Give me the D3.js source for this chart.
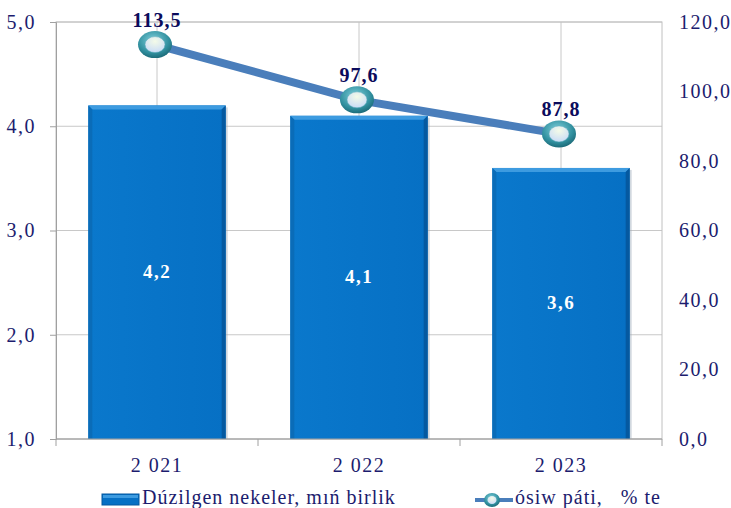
<!DOCTYPE html>
<html>
<head>
<meta charset="utf-8">
<script src="https://cdn.jsdelivr.net/npm/d3@7"></script>
<style>
  body { margin: 0; background: #fff; }
</style>
</head>
<body>
<svg id="chart" width="731" height="508"></svg>
<script>
// chart data
const years = ["2 021", "2 022", "2 023"];
const produced = [4.2, 4.1, 3.6];
const growth = [113.5, 97.6, 87.8];
const leftTicks = [1, 2, 3, 4, 5];
const rightTicks = [0, 20, 40, 60, 80, 100, 120];
const barName = "Dúzilgen nekeler, mıń birlik";
const lineName = "ósiw páti,   % te";

const FONT = "Liberation Serif";
const fmt = v => v.toFixed(1).replace(".", ",");

let margin = { top: 22, right: 69, bottom: 69, left: 56 },
    width = 731 - margin.left - margin.right,
    height = 508 - margin.top - margin.bottom;

const svg = d3.select("#chart");
const defs = svg.append("defs");

// gradients for the markers
let rg = defs.append("radialGradient").attr("id", "ring")
    .attr("cx", "45%").attr("cy", "35%").attr("r", "65%");
rg.append("stop").attr("offset", "0%").attr("stop-color", "#7fd0dc");
rg.append("stop").attr("offset", "70%").attr("stop-color", "#31909f");
rg.append("stop").attr("offset", "100%").attr("stop-color", "#1d6c7a");

let ig = defs.append("radialGradient").attr("id", "inner")
    .attr("cx", "50%").attr("cy", "30%").attr("r", "70%");
ig.append("stop").attr("offset", "0%").attr("stop-color", "#f4fbe8");
ig.append("stop").attr("offset", "100%").attr("stop-color", "#c9dcf7");

let bg = defs.append("linearGradient").attr("id", "barfill")
    .attr("x1", 0).attr("y1", 0).attr("x2", 1).attr("y2", 0);
bg.append("stop").attr("offset", "0%").attr("stop-color", "#0a78cc");
bg.append("stop").attr("offset", "100%").attr("stop-color", "#0670c4");

const g = svg.append("g")
    .attr("transform", "translate(" + margin.left + "," + margin.top + ")");

// scales
const x = d3.scaleBand().domain(years).range([0, width]).paddingInner(0.32).paddingOuter(0.16);
const xc = d3.scaleBand().domain(years).range([0, width]);
const y = d3.scaleLinear().domain([1, 5]).range([height, 0]);
const y2 = d3.scaleLinear().domain([0, 120]).range([height, 0]);

// horizontal grid
g.selectAll(".hgrid").data(leftTicks).enter().append("line")
    .attr("x1", 0).attr("x2", width)
    .attr("y1", d => y(d)).attr("y2", d => y(d))
    .attr("stroke", "#c8c8c8").attr("stroke-width", 1);

// vertical grid at category centres
g.selectAll(".vgrid").data(years).enter().append("line")
    .attr("x1", d => xc(d) + xc.bandwidth() / 2).attr("x2", d => xc(d) + xc.bandwidth() / 2)
    .attr("y1", 0).attr("y2", height)
    .attr("stroke", "#c8c8c8").attr("stroke-width", 1);

// plot border
g.append("rect").attr("width", width).attr("height", height)
    .attr("fill", "none").attr("stroke", "#c0c0c0");

// bars
const bars = g.selectAll(".bar").data(produced).enter().append("g");
bars.append("rect")
    .attr("x", (d, i) => x(years[i]) + 2)
    .attr("y", d => y(d) + 2)
    .attr("width", x.bandwidth())
    .attr("height", d => height - y(d) - 2)
    .attr("fill", "#9aa9b8").attr("opacity", 0.45);
bars.append("rect")
    .attr("x", (d, i) => x(years[i]))
    .attr("y", d => y(d))
    .attr("width", x.bandwidth())
    .attr("height", d => height - y(d))
    .attr("fill", "url(#barfill)");
// bevel: top light, right dark
bars.append("path")
    .attr("d", (d, i) => {
        const x0 = x(years[i]), x1 = x0 + x.bandwidth(), t = y(d);
        return "M" + x0 + "," + t + "L" + x1 + "," + t + "L" + (x1 - 4) + "," + (t + 4) + "L" + (x0 + 4) + "," + (t + 4) + "Z";
    })
    .attr("fill", "#3d9be0");
bars.append("path")
    .attr("d", (d, i) => {
        const x1 = x(years[i]) + x.bandwidth(), t = y(d);
        return "M" + x1 + "," + t + "L" + x1 + "," + height + "L" + (x1 - 4) + "," + height + "L" + (x1 - 4) + "," + (t + 4) + "Z";
    })
    .attr("fill", "#0559a0");
bars.append("path")
    .attr("d", (d, i) => {
        const x0 = x(years[i]), t = y(d);
        return "M" + x0 + "," + t + "L" + (x0 + 4) + "," + (t + 4) + "L" + (x0 + 4) + "," + height + "L" + x0 + "," + height + "Z";
    })
    .attr("fill", "#0a6cb8");

// bar labels
bars.append("text")
    .attr("x", (d, i) => x(years[i]) + x.bandwidth() / 2)
    .attr("y", d => (y(d) + height) / 2 + 6)
    .attr("text-anchor", "middle")
    .style("font-family", FONT).style("letter-spacing", "1.5px")
    .attr("fill", "#fff").attr("font-weight", "bold").attr("font-size", 19)
    .text(d => fmt(d));

// left axis
const yAxis = g.append("g").call(d3.axisLeft(y).tickValues(leftTicks).tickFormat(fmt).tickSize(6).tickPadding(14));
yAxis.select(".domain").attr("stroke", "#a0a0a0");
yAxis.selectAll(".tick line").attr("stroke", "#a0a0a0");
yAxis.selectAll("text").attr("fill", "#1c1c6e").attr("font-size", 20)
    .style("font-family", FONT).style("letter-spacing", "1.5px");

// right axis
const y2Axis = g.append("g").attr("transform", "translate(" + width + ",0)")
    .call(d3.axisRight(y2).tickValues(rightTicks).tickFormat(fmt).tickSize(0).tickPadding(17));
y2Axis.select(".domain").remove();
y2Axis.selectAll("text").attr("fill", "#1c1c6e").attr("font-size", 20)
    .style("font-family", FONT).style("letter-spacing", "1.5px");

// bottom axis with ticks between categories
g.selectAll(".xtick").data(d3.range(years.length + 1)).enter().append("line")
    .attr("x1", i => i * xc.bandwidth()).attr("x2", i => i * xc.bandwidth())
    .attr("y1", height).attr("y2", height + 7)
    .attr("stroke", "#a0a0a0");
g.append("line").attr("x1", 0).attr("x2", width).attr("y1", height).attr("y2", height)
    .attr("stroke", "#a0a0a0");
g.selectAll(".xlab").data(years).enter().append("text")
    .attr("x", d => xc(d) + xc.bandwidth() / 2)
    .attr("y", height + 33)
    .attr("text-anchor", "middle")
    .style("font-family", FONT).style("letter-spacing", "1.5px")
    .attr("fill", "#1c1c6e").attr("font-size", 20)
    .text(d => d);

// growth line
const cx = (d, i) => xc(years[i]) + xc.bandwidth() / 2 - 2;
const line = d3.line().x((d, i) => cx(d, i)).y(d => y2(d));
g.append("path").datum(growth)
    .attr("d", line)
    .attr("fill", "none").attr("stroke", "#4a7ebb").attr("stroke-width", 8);

const marks = g.selectAll(".mark").data(growth).enter().append("g")
    .attr("transform", (d, i) => "translate(" + cx(d, i) + "," + y2(d) + ")");
marks.append("ellipse").attr("rx", 17).attr("ry", 13.5).attr("fill", "url(#ring)");
marks.append("ellipse").attr("rx", 10).attr("ry", 8).attr("fill", "url(#inner)")
    .attr("stroke", "#5aa9b7").attr("stroke-width", 0.5);

g.selectAll(".glab").data(growth).enter().append("text")
    .attr("x", (d, i) => cx(d, i) + 2)
    .attr("y", d => y2(d) - 18)
    .attr("text-anchor", "middle")
    .style("font-family", FONT).style("letter-spacing", "1px")
    .attr("fill", "#0b0b5c").attr("font-weight", "bold").attr("font-size", 20)
    .text(d => fmt(d));

// legend
const leg = svg.append("g");
leg.append("rect").attr("x", 102).attr("y", 494).attr("width", 37).attr("height", 11)
    .attr("fill", "#0670c4").attr("stroke", "#0559a0");
leg.append("rect").attr("x", 103).attr("y", 495).attr("width", 35).attr("height", 3)
    .attr("fill", "#3d9be0");
leg.append("text").attr("x", 142).attr("y", 504).attr("fill", "#1c1c6e").attr("font-size", 20)
    .style("font-family", FONT).style("letter-spacing", "1px")
    .text(barName);
leg.append("line").attr("x1", 475).attr("x2", 513).attr("y1", 500).attr("y2", 500)
    .attr("stroke", "#4a7ebb").attr("stroke-width", 4);
leg.append("ellipse").attr("cx", 492).attr("cy", 500).attr("rx", 8).attr("ry", 7).attr("fill", "url(#ring)");
leg.append("ellipse").attr("cx", 492).attr("cy", 500).attr("rx", 4.5).attr("ry", 4).attr("fill", "url(#inner)");
leg.append("text").attr("x", 515).attr("y", 504).attr("fill", "#1c1c6e").attr("font-size", 20)
    .style("font-family", FONT).style("white-space", "pre").style("letter-spacing", "1px")
    .text(lineName);
</script>
</body>
</html>
